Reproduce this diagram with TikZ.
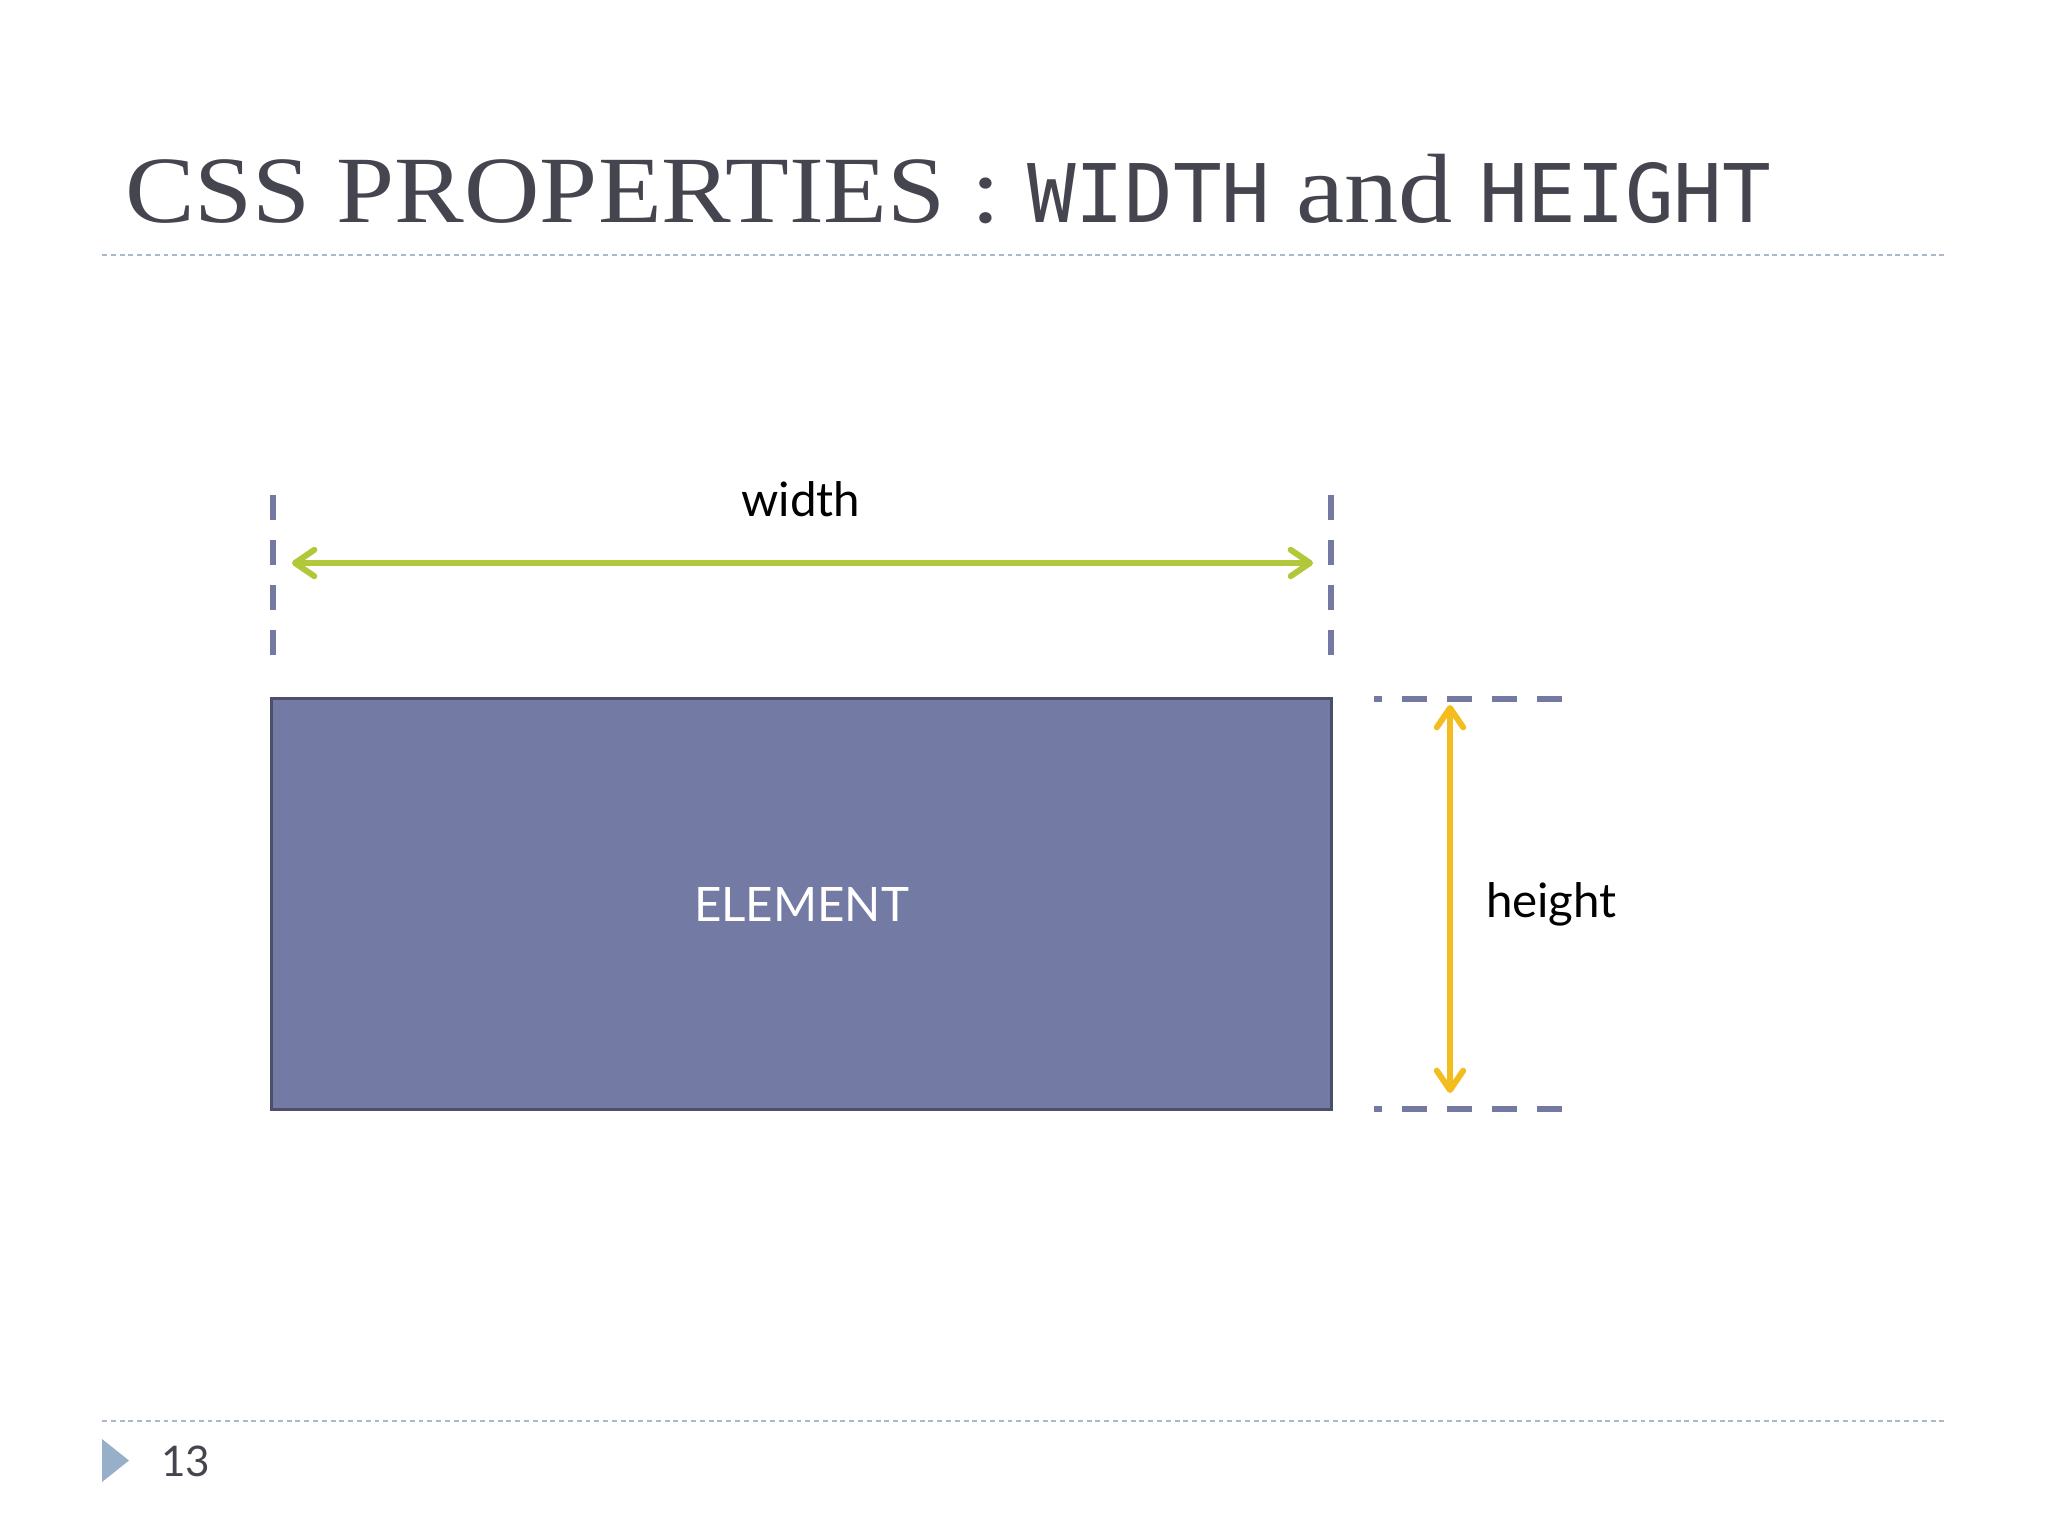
\documentclass[tikz,border=0pt]{standalone}
\usepackage{fontspec}
\usepackage{tikz}
\usetikzlibrary{positioning,arrows.meta}
\newfontfamily\gillfont{Lato}
\newfontfamily\titleserif[FakeStretch=1.1]{Liberation Serif}
\newfontfamily\titlemono{DejaVu Sans Mono}
\definecolor{boxfill}{HTML}{737BA4}
\definecolor{boxline}{HTML}{4B4F6A}
\definecolor{guideblue}{HTML}{7479A3}
\definecolor{wgreen}{HTML}{B2C83A}
\definecolor{hgold}{HTML}{F4BD1F}
\definecolor{rulegray}{HTML}{A9B9CB}
\definecolor{titlegray}{HTML}{45454F}
\definecolor{bulletblue}{HTML}{97AFC9}

\begin{document}
\begin{tikzpicture}[
    x=0.01cm, y=-0.01cm,
    every node/.style={inner sep=0pt, outer sep=0pt},
    element/.style={rectangle, draw=boxline, fill=boxfill, line width=0.85pt, minimum width=10.59cm, minimum height=4.10cm, text=white, font=\gillfont\fontsize{13.5}{16}\selectfont},
    guide/.style={draw=guideblue, line width=1.7pt, dash pattern=on 7.1pt off 5.7pt},
    dimarrow/.style={line width=1.7pt, {Straight Barb[length=5.5pt,width=7.5pt,line cap=round,line join=round]}-{Straight Barb[length=5.5pt,width=7.5pt,line cap=round,line join=round]}},
    rulerline/.style={draw=rulegray, line width=0.57pt, dash pattern=on 1.4pt off 1.1pt},
    dimlabel/.style={font=\gillfont\fontsize{13.5}{16}\selectfont, text=black}
]
\fill[white] (0,0) rectangle (2048,1536);
\useasboundingbox (0,0) rectangle (2048,1536);

% Title
\node[anchor=base west, text=titlegray] (title) at (125,222)
    {\titleserif\fontsize{27}{30}\selectfont CSS PROPERTIES : {\titlemono\fontsize{23}{30}\selectfont WIDTH} {\fontsize{28}{30}\selectfont and} {\titlemono\fontsize{23}{30}\selectfont HEIGHT}};
\draw[rulerline] (102,255) -- (1946,255);

% Element
\node[element] (elem) at (801.5,904) {ELEMENT};

% Width guides
\coordinate (wltop) at (273,495);
\coordinate (wlbot) at (273,655);
\coordinate (wrtop) at (1331,495);
\coordinate (wrbot) at (1331,655);
\draw[guide] (wltop) -- (wlbot);
\draw[guide] (wrtop) -- (wrbot);

% Width arrow
\coordinate (wl) at (292,563);
\coordinate (wr) at (1313,563);
\draw[dimarrow, wgreen] (wl) -- (wr);
\node[dimlabel, anchor=base] (wlabel) at (801,516) {width};

% Height guides
\coordinate (htl) at (1374,699);
\coordinate (htr) at (1562,699);
\coordinate (hbl) at (1374,1109);
\coordinate (hbr) at (1562,1109);
\draw[guide, dash phase=4.84pt] (htl) -- (htr);
\draw[guide, dash phase=4.84pt] (hbl) -- (hbr);

% Height arrow
\coordinate (ht) at (1450,705);
\coordinate (hb) at (1450,1093);
\draw[dimarrow, hgold] (ht) -- (hb);
\node[dimlabel, anchor=base west] (hlabel) at (1486,917) {height};

% Footer
\draw[rulerline] (102,1421) -- (1946,1421);
\fill[bulletblue] (102,1439) -- (102,1482) -- (129,1460.5) -- cycle;
\node[anchor=base west, font=\gillfont\fontsize{12}{15}\selectfont, text=titlegray] (pagenum) at (161,1476) {13};

\end{tikzpicture}
\end{document}
